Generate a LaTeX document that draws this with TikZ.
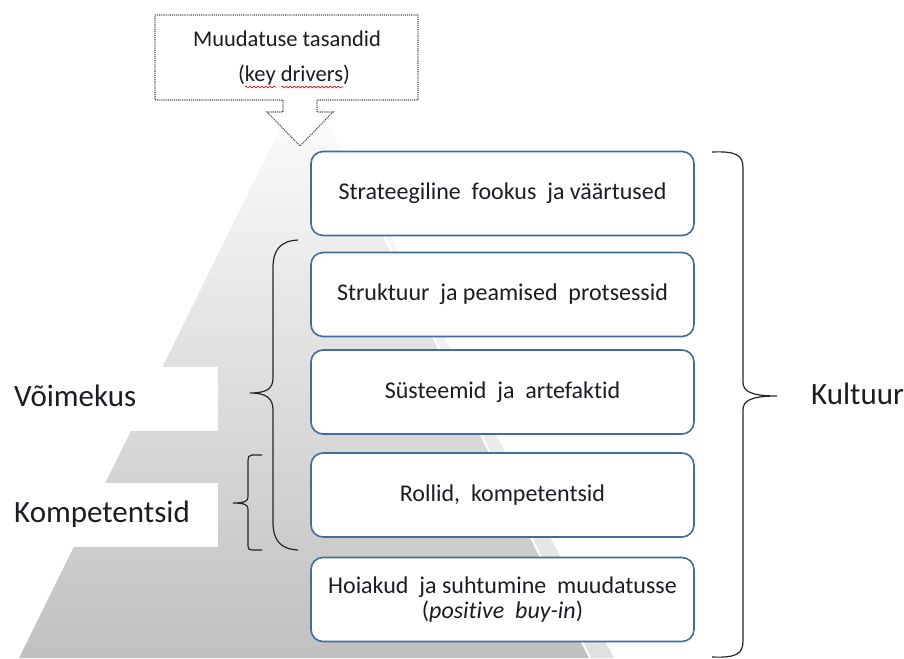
\documentclass[tikz,border=0pt]{standalone}
\usepackage{fontspec}
\setmainfont{Carlito}[Ligatures=NoCommon]
\usetikzlibrary{calc,decorations.pathmorphing}
\definecolor{boxblue}{RGB}{65,108,155}
\definecolor{txt}{RGB}{28,28,36}
\definecolor{pyrbot}{RGB}{192,192,192}
\definecolor{pyrlight}{RGB}{224,224,224}
\begin{document}
\begin{tikzpicture}[x=1pt,y=-1pt,
  stage/.style={draw=boxblue, line width=1.6pt, rounded corners=12pt, fill=white,
    minimum width=383pt, minimum height=84pt, align=center, text=txt,
    font=\fontsize{24}{25}\selectfont, inner sep=0pt},
  sidelabel/.style={text=txt, font=\fontsize{31}{34}\selectfont, inner sep=0pt, anchor=base west},
  toptext/.style={text=txt, font=\fontsize{22.5}{26}\selectfont, inner sep=0pt, anchor=base},
  callout/.style={draw=black!70, densely dotted, line width=1.1pt, fill=white},
  bracestroke/.style={draw=black!85, line width=1.2pt},
  squig/.style={draw=red!85!black, line width=0.6pt, decorate,
    decoration={snake, segment length=4pt, amplitude=0.9pt}},
]
\useasboundingbox (0,0) rectangle (904,658);

% pyramid
\shade[top color=white, bottom color=pyrbot] (306,76) -- (19,658) -- (590,658) -- cycle;
\shade[top color=white, bottom color=pyrlight] (306,76) -- (590,658) -- (614,658) -- cycle;
\draw[white, line width=2pt] (306,76) -- (590,658);

% white label panels
\fill[white] (0,367) rectangle (218,431);
\fill[white] (0,483) rectangle (218,547);

\node[sidelabel] (voim) at (14,406) {Võimekus};
\node[sidelabel] (komp) at (14,522) {Kompetentsid};
\node[sidelabel] (kult) at (811,404) {Kultuur};

% stages
\node[stage] (s1) at (502.5,193.5) {Strateegiline~ fookus~ ja väärtused};
\node[stage] (s2) at (502.5,294.5) {Struktuur~ ja peamised~ protsessid};
\node[stage] (s3) at (502.5,392) {Süsteemid~ ja~ artefaktid};
\node[stage] (s4) at (502.5,495) {Rollid,~ kompetentsid};
\node[stage] (s5) at (502.5,599.5) {Hoiakud~ ja suhtumine~ muudatusse\\(\textit{positive~ buy-in})};

% callout
\draw[callout] (155,15) -- (418,15) -- (418,100) -- (317,100) -- (317,112) -- (333,112)
  -- (300,146) -- (267,112) -- (283,112) -- (283,100) -- (155,100) -- cycle;
\node[toptext] (drv) at (287,47) {Muudatuse tasandid};
\node[toptext] (kd) at (294,82) {(key drivers)};
\draw[squig] ($(kd.base west)!0.06!(kd.base east)+(0,5)$) -- ($(kd.base west)!0.34!(kd.base east)+(0,5)$);
\draw[squig] ($(kd.base west)!0.385!(kd.base east)+(0,5)$) -- ($(kd.base west)!0.94!(kd.base east)+(0,5)$);

% Kultuur brace
\draw[bracestroke] (712,152) .. controls (736,151) and (743,155) .. (743,168) -- (743,382)
  .. controls (743,391) and (750,396) .. (777,396)
  .. controls (750,396) and (743,401) .. (743,410) -- (743,641)
  .. controls (743,654) and (736,658) .. (712,657);

% Voimekus brace
\draw[bracestroke] (298,240) .. controls (280,241) and (273,250) .. (273,268) -- (273,378)
  .. controls (273,389) and (266,393) .. (250,393)
  .. controls (266,393) and (273,398) .. (273,410) -- (273,522)
  .. controls (273,540) and (280,549) .. (298,550);

% Kompetentsid bracket
\draw[bracestroke] (262,455) -- (252,455) .. controls (249,455) and (248,457) .. (248,460) -- (248,497)
  .. controls (248,501) and (245,503) .. (233,503)
  .. controls (245,503) and (248,505) .. (248,509) -- (248,546)
  .. controls (248,549) and (249,550) .. (252,550) -- (262,550);
\end{tikzpicture}
\end{document}
